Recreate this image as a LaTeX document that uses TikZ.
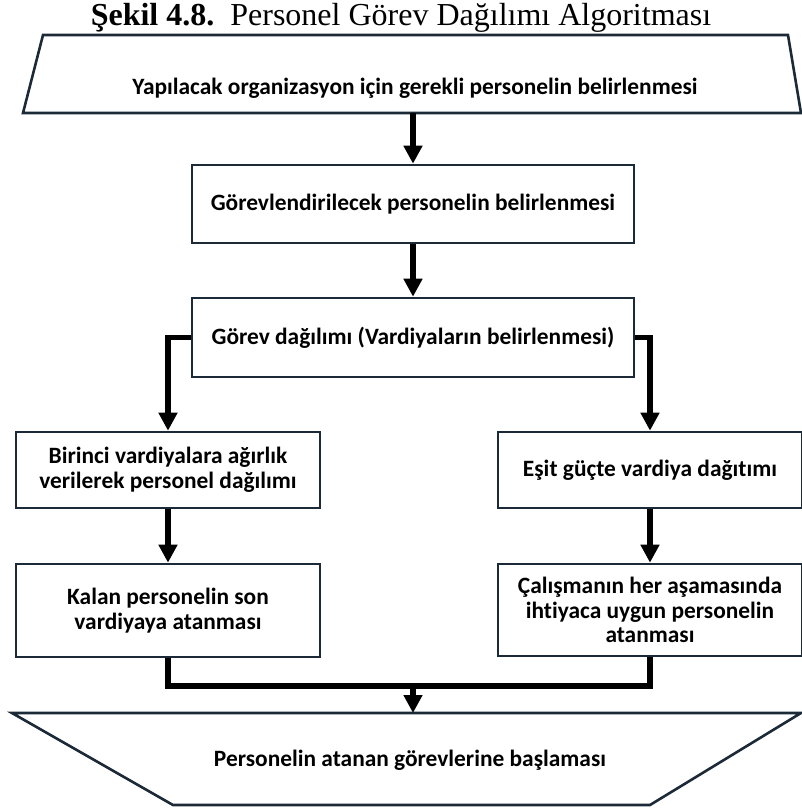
\documentclass[tikz,border=0pt]{standalone}
\usepackage{fontspec}
\setmainfont{Liberation Serif}
\newfontfamily\kutufont[Ligatures=NoCommon]{Carlito}
\usetikzlibrary{positioning,arrows.meta}
\definecolor{kenar}{RGB}{28,42,56}
\tikzset{
	kutu/.style={draw=kenar,line width=1.3pt,fill=white,align=center,inner sep=2pt,
		font=\kutufont\bfseries\fontsize{11.7}{12.4}\selectfont},
	yazi/.style={align=center,font=\kutufont\bfseries\fontsize{11.7}{12.4}\selectfont},
	hat/.style={line width=2.6pt},
	akis/.style={hat,-{Triangle[width=9pt,length=9pt]}}
}

\begin{document}
\begin{tikzpicture}[x=0.5pt,y=-0.5pt]
			\useasboundingbox (0,0) rectangle (802,811);
			\node[anchor=base,font=\fontsize{16}{18}\selectfont] (baslik) at (401,25) {\textbf{Şekil 4.8.}\ \ Personel Görev Dağılımı Algoritması};
			
			% giris ve cikis
			\draw[kenar,line width=1.3pt,fill=white] (43,35) -- (788,35) -- (801,113) -- (23,113) -- cycle;
			\draw[kenar,line width=1.3pt,fill=white] (12,713) -- (801,713) -- (650,805) -- (173,805) -- cycle;
			\node[yazi] (giris) at (415,88) {Yapılacak organizasyon için gerekli personelin belirlenmesi};
			\node[yazi] (cikis) at (410,760) {Personelin atanan görevlerine başlaması};
			\coordinate (girisS) at (413,113);
			\coordinate (cikisN) at (413,713);
			\coordinate (birles) at (413,686);
			
			\node[kutu,minimum width=221pt,minimum height=39pt] (gorev) at (413,204) {Görevlendirilecek personelin belirlenmesi};
			\node[kutu,minimum width=221pt,minimum height=39.5pt] (dagilim) at (413,337.5) {Görev dağılımı (Vardiyaların belirlenmesi)};
			\node[kutu,minimum width=152pt,minimum height=38pt] (birinci) at (168,470) {Birinci vardiyalara ağırlık\\verilerek personel dağılımı};
			\node[kutu,minimum width=152pt,minimum height=38pt] (esit) at (650,470) {Eşit güçte vardiya dağıtımı};
			\node[kutu,minimum width=152pt,minimum height=46.5pt] (kalan) at (168,610.5) {Kalan personelin son\\vardiyaya atanması};
			\node[kutu,minimum width=152pt,minimum height=46pt] (calisma) at (650,610) {Çalışmanın her aşamasında\\ihtiyaca uygun personelin\\atanması};
			
			\begin{scope}[akis]
			\draw (girisS) -- (gorev.north);
			\draw (gorev) -- (dagilim);
			\draw (dagilim.west) -| (birinci.north);
			\draw (dagilim.east) -| (esit.north);
			\draw (birinci) -- (kalan);
			\draw (esit) -- (calisma);
			\draw (birles) -- (cikisN);
			\end{scope}
			\draw[hat] (kalan.south) |- (birles) -| (calisma.south);
\end{tikzpicture}
\end{document}
